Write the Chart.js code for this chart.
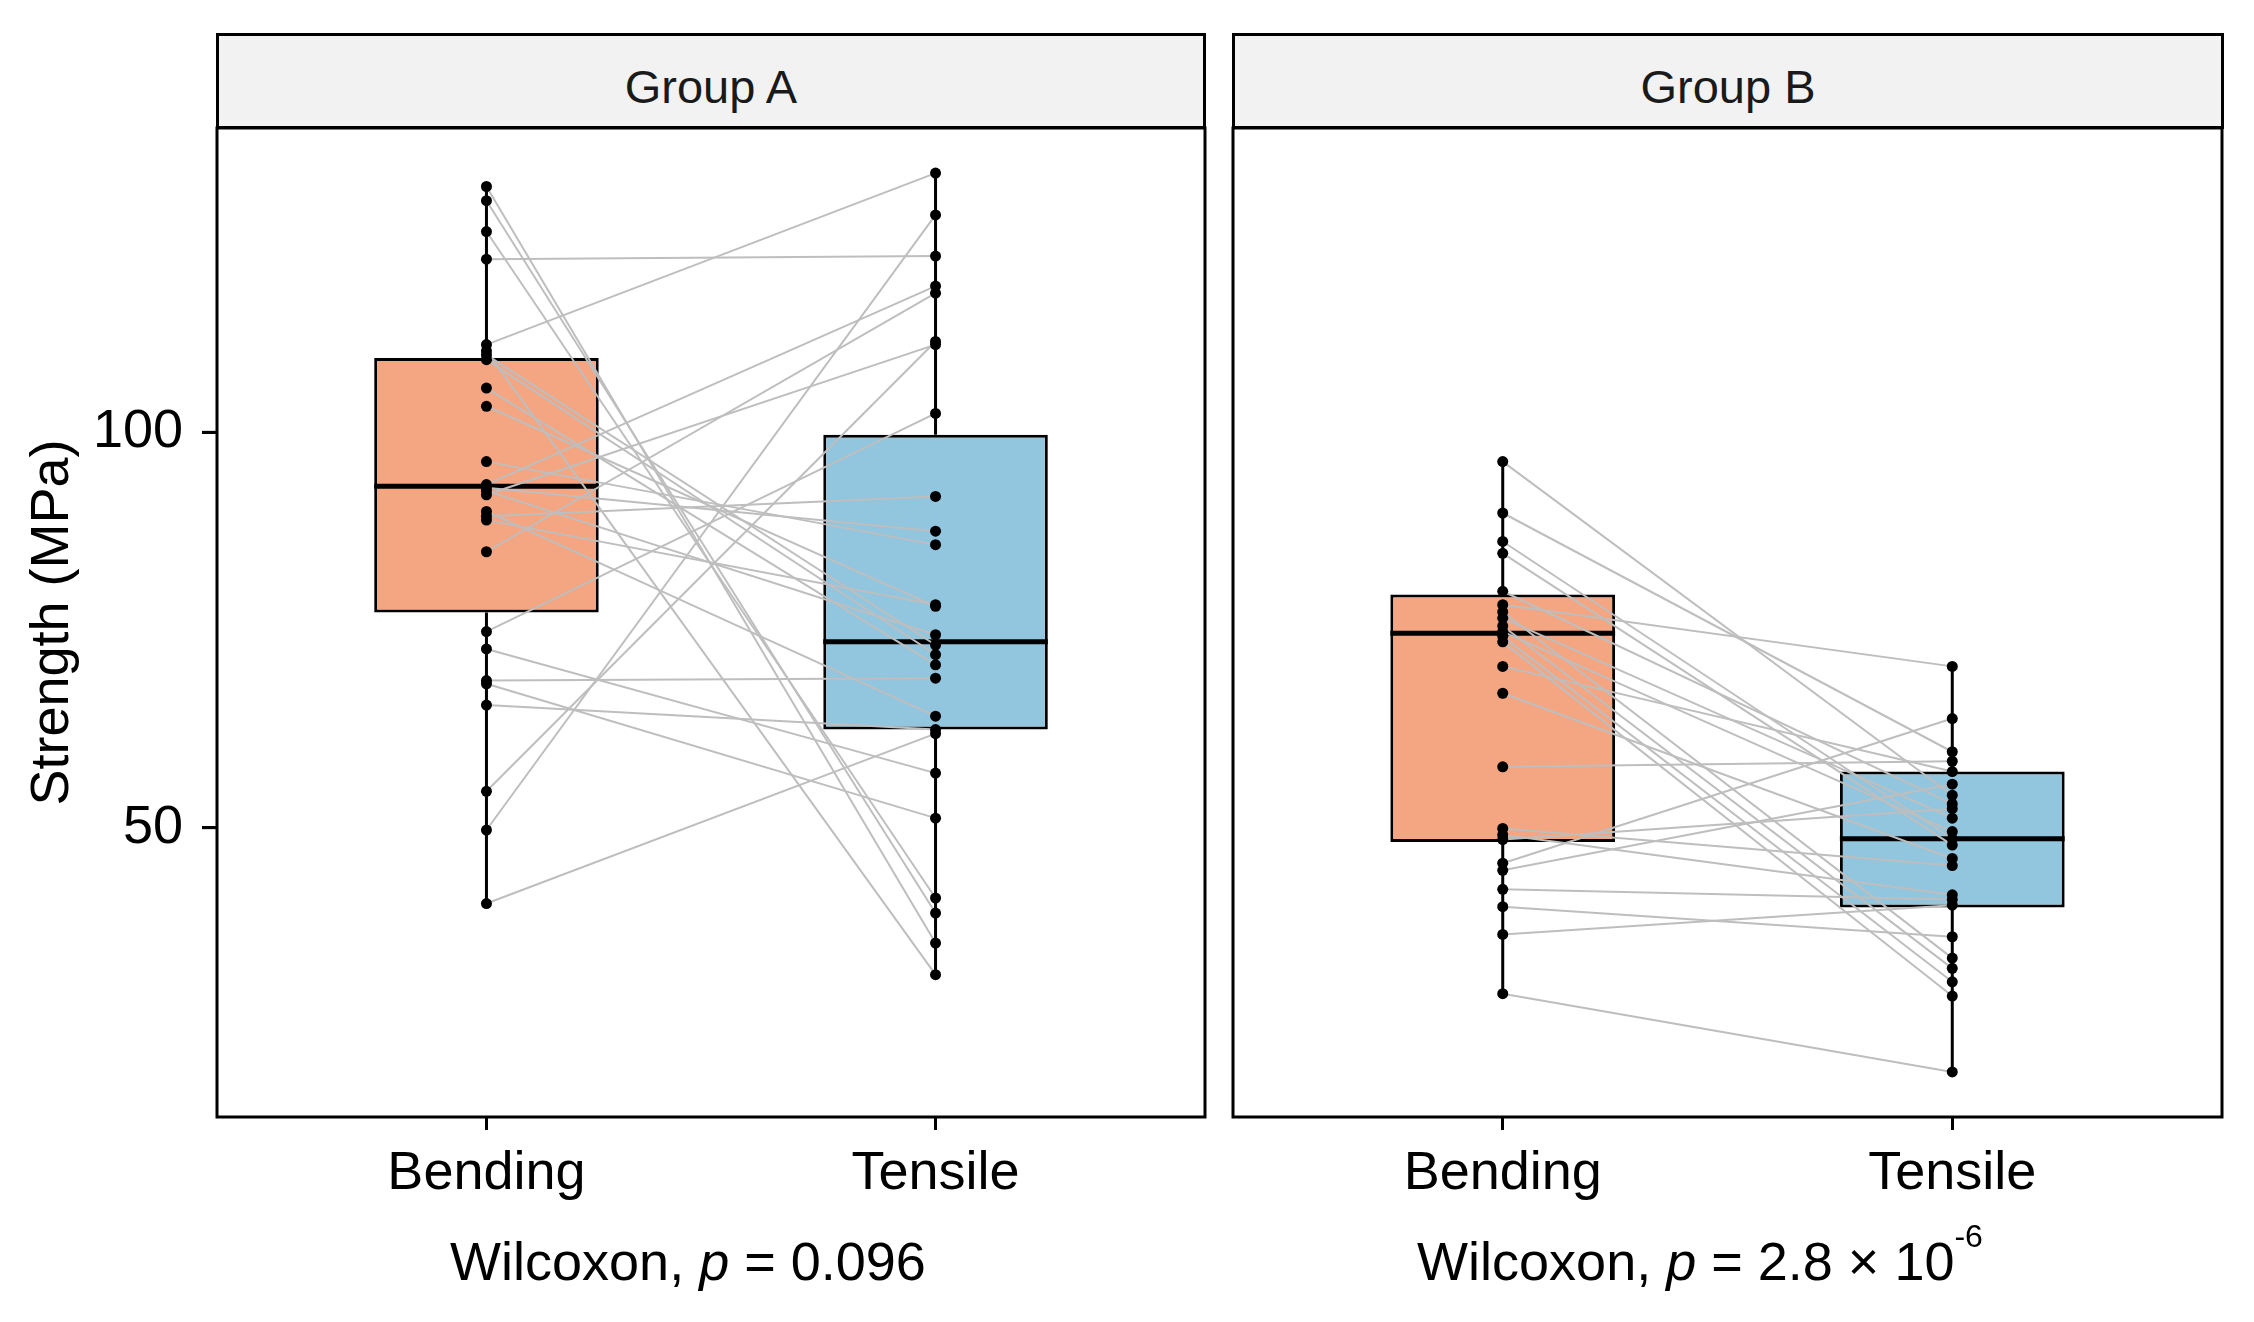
<!DOCTYPE html>
<html lang="en">
<head>
  <meta charset="UTF-8" />
  <title>Strength: Bending vs Tensile</title>
  <script src="https://cdn.jsdelivr.net/npm/chart.js"></script>
  <style>
    html, body { margin: 0; padding: 0; background: #fff; }
    body { width: 2254px; height: 1322px; position: relative; overflow: hidden; font-family: "Liberation Sans", Arial, sans-serif; }
    canvas { position: absolute; left: 0; top: 0; }
    .strip { position: absolute; top: 33px; height: 96px; box-sizing: border-box; border: 3px solid #000; background: #f2f2f2; }
    .strip span { position: absolute; left: 50%; top: 27px; transform: translateX(-50%); font-size: 47px; line-height: 47px; color: #1a1a1a; white-space: nowrap; }
    .note { position: absolute; top: 1234px; font-size: 54px; line-height: 54px; color: #000; white-space: nowrap; transform: translateX(-50%); }
    .note sup { font-size: 32px; line-height: 0; vertical-align: baseline; position: relative; top: -33px; }
  </style>
</head>
<body>
<canvas id="panelA" width="2254" height="1322"></canvas>
<canvas id="panelB" width="2254" height="1322"></canvas>

<!-- facet strips -->
<div class="strip" style="left:216px; width:990px;"><span id="stripA"></span></div>
<div class="strip" style="left:1232px; width:992px;"><span id="stripB"></span></div>

<!-- test captions under each panel -->
<div class="note" style="left:688px;">Wilcoxon, <i>p</i> = 0.096</div>
<div class="note" style="left:1700px;">Wilcoxon, <i>p</i> = 2.8 × 10<sup>-6</sup></div>

<script>
  // ---- data ----
  const categories = ['Bending', 'Tensile'];
  const groupNames = ['Group A', 'Group B'];
  const yTicks = [50, 100];
  const yTitle = 'Strength (MPa)';

  // paired samples, same index = same specimen
  const bendingA = [131.1, 129.3, 125.4, 121.9, 111.1, 110.3, 109.8, 109.2, 105.6, 103.3, 96.3, 93.4, 93.0, 92.6,
                    92.1, 90.0, 89.4, 88.9, 84.9, 74.8, 72.6, 68.6, 68.2, 65.5, 54.6, 49.7, 40.4];
  const tensileA = [35.4, 39.2, 41.1, 122.3, 132.8, 31.4, 73.1, 71.9, 70.6, 78.0, 85.8, 118.5, 87.5, 74.4,
                    111.1, 64.1, 91.9, 78.2, 117.6, 102.4, 56.9, 68.9, 51.2, 62.4, 111.5, 127.5, 61.9];

  const bendingB = [96.3, 89.8, 86.2, 84.7, 79.9, 78.2, 77.3, 76.5, 75.5, 74.8, 74.2, 73.5,
                    70.4, 67.0, 57.7, 49.9, 49.1, 48.5, 45.5, 44.6, 42.2, 40.0, 36.5, 29.0];
  const tensileB = [54.1, 59.6, 48.6, 47.8, 53.0, 70.4, 33.5, 51.2, 32.2, 49.5, 30.5, 28.7,
                    57.1, 46.1, 58.4, 45.2, 41.5, 52.4, 63.8, 55.5, 40.9, 36.2, 40.2, 19.1];

  // box statistics [Bending, Tensile]
  const q1A = [77.2, 62.4];
  const medianA = [93.2, 73.5];
  const q3A = [109.4, 99.7];
  const q1B = [48.2, 39.9];
  const medianB = [74.6, 48.6];
  const q3B = [79.5, 57.1];

  // ---- styles ----
  const boxColors = ['#F4A582', '#92C5DE'];
  const pairColor = '#BEBEBE';
  const boxHalf = 0.25;          // half box width in x units
  const yMin = 13.4, yMax = 138.5;
  const yTickLen = 15;
  const fontFamily = '"Liberation Sans", Arial, sans-serif';

  Chart.defaults.font.family = fontFamily;

  document.getElementById('stripA').textContent = groupNames[0];
  document.getElementById('stripB').textContent = groupNames[1];

  // black frame round the plotting area, plus y tick marks when the panel has a y axis
  function panelBorder(withYTicks) {
    return {
      id: 'panelBorder',
      afterDraw(chart) {
        const { ctx, chartArea: a } = chart;
        ctx.save();
        ctx.strokeStyle = '#000';
        ctx.lineWidth = 3;
        ctx.strokeRect(a.left, a.top, a.right - a.left, a.bottom - a.top);
        if (withYTicks) {
          const ys = chart.scales.y;
          ctx.fillStyle = '#000';
          yTicks.forEach(v => {
            const py = ys.getPixelForValue(v);
            ctx.fillRect(a.left - yTickLen, py - 1.5, yTickLen, 3);
          });
        }
        ctx.restore();
      }
    };
  }

  function segment(p1, p2, color, width, order) {
    return {
      type: 'line',
      data: [p1, p2],
      borderColor: color,
      borderWidth: width,
      pointRadius: 0,
      order: order
    };
  }

  function buildDatasets(bending, tensile, q1, med, q3) {
    const ds = [];
    const groups = [bending, tensile];

    // boxes (floating bars from q1 to q3)
    ds.push({
      type: 'bar',
      data: categories.map((c, i) => ({ x: i + 1, y: [q1[i], q3[i]] })),
      backgroundColor: boxColors,
      borderColor: '#000',
      borderWidth: 3,
      borderSkipped: false,
      barPercentage: boxHalf * 2,
      categoryPercentage: 1,
      order: 4
    });

    // whiskers + median
    groups.forEach((vals, i) => {
      const x = i + 1;
      ds.push(segment({ x: x, y: Math.max(...vals) }, { x: x, y: q3[i] }, '#000', 3, 3));
      ds.push(segment({ x: x, y: q1[i] }, { x: x, y: Math.min(...vals) }, '#000', 3, 3));
      ds.push(segment({ x: x - boxHalf, y: med[i] }, { x: x + boxHalf, y: med[i] }, '#000', 5, 2));
    });

    // paired lines
    bending.forEach((b, j) => {
      ds.push(segment({ x: 1, y: b }, { x: 2, y: tensile[j] }, pairColor, 2, 1));
    });

    // points on top
    ds.push({
      type: 'line',
      data: bending.map(v => ({ x: 1, y: v })).concat(tensile.map(v => ({ x: 2, y: v }))),
      showLine: false,
      pointRadius: 5.5,
      pointBackgroundColor: '#000',
      pointBorderWidth: 0,
      order: 0
    });
    return ds;
  }

  function makePanel(id, bending, tensile, q1, med, q3, isLeft, padding) {
    new Chart(document.getElementById(id), {
      type: 'line',
      data: { datasets: buildDatasets(bending, tensile, q1, med, q3) },
      options: {
        responsive: false,
        animation: false,
        devicePixelRatio: 1,
        layout: { padding: padding },
        plugins: { legend: { display: false }, tooltip: { enabled: false } },
        scales: {
          x: {
            type: 'linear',
            min: 0.4,
            max: 2.6,
            offset: false,
            afterBuildTicks: s => { s.ticks = categories.map((c, i) => ({ value: i + 1 })); },
            afterFit: s => { s.height = 205; },
            ticks: {
              callback: (v) => categories[v - 1],
              font: { size: 54 },
              color: '#000',
              padding: 12,
              maxRotation: 0,
              autoSkip: false
            },
            grid: {
              offset: false, drawOnChartArea: false, drawTicks: true,
              tickLength: 13, tickColor: '#000', tickWidth: 3, color: '#000', lineWidth: 3
            },
            border: { display: false }
          },
          y: {
            type: 'linear',
            min: yMin,
            max: yMax,
            display: isLeft,
            afterBuildTicks: s => { s.ticks = yTicks.map(v => ({ value: v })); },
            afterFit: s => { s.width = isLeft ? 217 : 0; },
            ticks: { font: { size: 54 }, color: '#000', padding: 19 },
            grid: {
              offset: false, drawOnChartArea: false, drawTicks: true,
              tickLength: yTickLen, tickColor: '#000', tickWidth: 3, color: '#000', lineWidth: 3
            },
            border: { display: false },
            title: {
              display: true,
              text: yTitle,
              font: { size: 54 },
              color: '#000',
              padding: { top: 21, bottom: 0 }
            }
          }
        }
      },
      plugins: [panelBorder(isLeft)]
    });
  }

  makePanel('panelA', bendingA, tensileA, q1A, medianA, q3A, true, { top: 128, right: 1049, left: 0, bottom: 0 });
  makePanel('panelB', bendingB, tensileB, q1B, medianB, q3B, false, { top: 128, right: 32, left: 1233, bottom: 0 });
</script>
</body>
</html>
